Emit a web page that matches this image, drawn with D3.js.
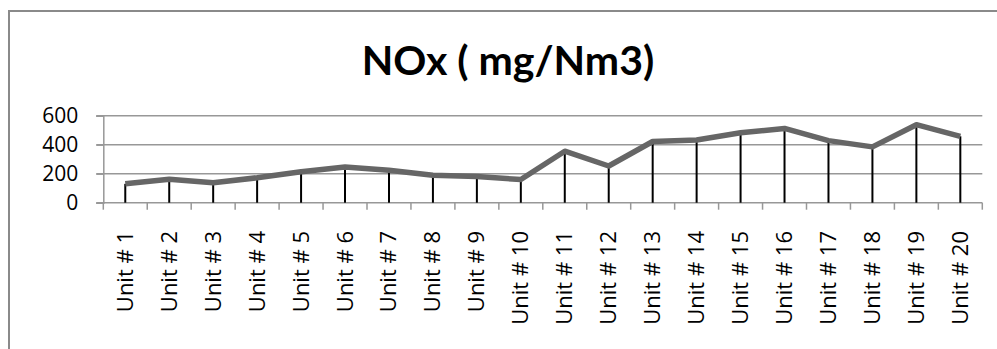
<!DOCTYPE html>
<html>
<head>
<meta charset="utf-8">
<script src="https://cdn.jsdelivr.net/npm/d3@7"></script>
<style>
  body { margin: 0; background: #fff; }
  svg { display: block; }
</style>
</head>
<body>
<div id="chart"></div>
<script>
// chart data
var units = ["Unit # 1", "Unit # 2", "Unit # 3", "Unit # 4", "Unit # 5",
             "Unit # 6", "Unit # 7", "Unit # 8", "Unit # 9", "Unit # 10",
             "Unit # 11", "Unit # 12", "Unit # 13", "Unit # 14", "Unit # 15",
             "Unit # 16", "Unit # 17", "Unit # 18", "Unit # 19", "Unit # 20"];
var nox = [130, 162, 138, 172, 214, 246, 224, 190, 180, 160,
           355, 253, 422, 432, 482, 512, 428, 385, 538, 458];
var yTicks = [0, 200, 400, 600];
var title = "NOx ( mg/Nm3)";

var width = 997, height = 349;
var margin = {top: 115.7, right: 14.7, bottom: 146.3, left: 103.3};

var svg = d3.select("#chart").append("svg")
    .attr("width", width)
    .attr("height", height);

// outer chart frame
svg.append("rect")
    .attr("x", 9).attr("y", 11)
    .attr("width", 1000).attr("height", 400)
    .attr("fill", "none")
    .attr("stroke", "#8a8a8a")
    .attr("stroke-width", 2);

svg.append("text")
    .attr("x", 508).attr("y", 75)
    .attr("text-anchor", "middle")
    .attr("font-family", "Lato, sans-serif")
    .attr("font-weight", "bold")
    .attr("font-size", 41)
    .attr("fill", "#000")
    .text(title);

var x = d3.scaleBand()
    .domain(units)
    .range([margin.left, width - margin.right]);

var y = d3.scaleLinear()
    .domain([0, 600])
    .range([height - margin.bottom, margin.top]);

// gridlines
svg.append("g")
    .selectAll("line")
    .data(yTicks)
    .join("line")
    .attr("x1", margin.left - 7)
    .attr("x2", width - margin.right)
    .attr("y1", function(d) { return y(d); })
    .attr("y2", function(d) { return y(d); })
    .attr("stroke", "#989898")
    .attr("stroke-width", 1.5);

// y axis
var yAxis = svg.append("g")
    .attr("transform", "translate(" + margin.left + ",0)")
    .call(d3.axisLeft(y).tickValues(yTicks).tickSize(7).tickPadding(18));
yAxis.select(".domain").attr("stroke", "#989898").attr("stroke-width", 1.5);
yAxis.selectAll(".tick line").attr("stroke", "#989898").attr("stroke-width", 1.5);
yAxis.selectAll("text")
    .attr("font-family", "'Open Sans', sans-serif")
    .attr("font-size", 21)
    .attr("fill", "#000");

// x axis ticks at category boundaries
var bounds = units.map(function(d) { return x(d); }).concat([x.range()[1]]);
svg.append("g")
    .selectAll("line")
    .data(bounds)
    .join("line")
    .attr("x1", function(d) { return d; })
    .attr("x2", function(d) { return d; })
    .attr("y1", y(0))
    .attr("y2", y(0) + 7)
    .attr("stroke", "#989898")
    .attr("stroke-width", 1.5);

var cx = function(d) { return x(d) + x.bandwidth() / 2; };

// x labels
svg.append("g")
    .selectAll("text")
    .data(units)
    .join("text")
    .attr("transform", function(d) { return "translate(" + (cx(d) + 7.5) + "," + 231 + ") rotate(-90)"; })
    .attr("text-anchor", "end")
    .attr("font-family", "'Open Sans', sans-serif")
    .attr("font-size", 22)
    .attr("fill", "#000")
    .text(function(d) { return d; });

// drop lines
svg.append("g")
    .selectAll("line")
    .data(units)
    .join("line")
    .attr("x1", cx).attr("x2", cx)
    .attr("y1", y(0))
    .attr("y2", function(d, i) { return y(nox[i]); })
    .attr("stroke", "#000")
    .attr("stroke-width", 2);

// series line
var line = d3.line()
    .x(function(d, i) { return cx(units[i]); })
    .y(function(d) { return y(d); });

svg.append("path")
    .datum(nox)
    .attr("d", line)
    .attr("fill", "none")
    .attr("stroke", "#666666")
    .attr("stroke-width", 5.5)
    .attr("stroke-linejoin", "round");
</script>
</body>
</html>
